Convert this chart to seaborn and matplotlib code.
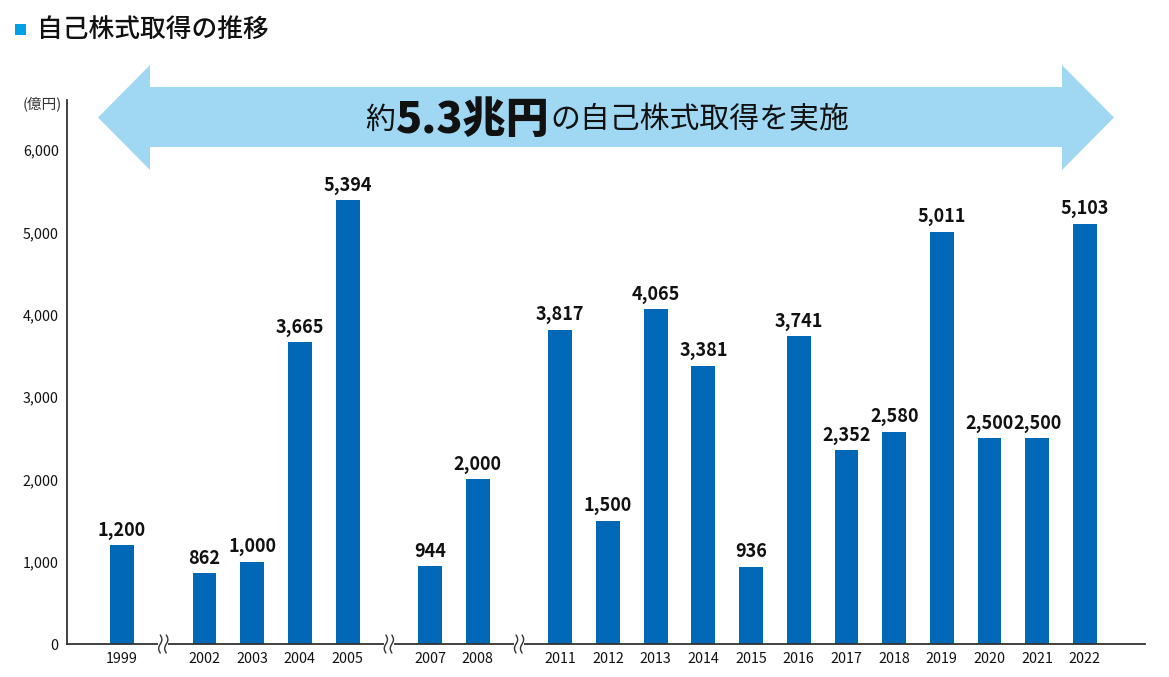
import seaborn as sns
import matplotlib.pyplot as plt
from matplotlib.patches import Polygon, Rectangle
from matplotlib.text import Annotation
import numpy as np
import pandas as pd

years = ["1999", "2002", "2003", "2004", "2005", "2007", "2008",
         "2011", "2012", "2013", "2014", "2015", "2016", "2017",
         "2018", "2019", "2020", "2021", "2022"]
amounts = [1200, 862, 1000, 3665, 5394, 944, 2000,
           3817, 1500, 4065, 3381, 936, 3741, 2352,
           2580, 5011, 2500, 2500, 5103]
# which block of consecutive years each bar belongs to (axis breaks between blocks)
segment = [0, 1, 1, 1, 1, 2, 2,
           3, 3, 3, 3, 3, 3, 3,
           3, 3, 3, 3, 3]
yticks = [0, 1000, 2000, 3000, 4000, 5000, 6000]

BAR = "#0068b7"
ARROW = "#a0d8f4"
TEXT = "#111111"

sns.set_theme(style="white")
plt.rcParams['font.family'] = ['Noto Sans CJK JP', 'DejaVu Sans']

W, H = 1169, 677
fig = plt.figure(figsize=(W / 100, H / 100), dpi=100)

def fx(px):
    return px / W

def fy(py):
    return 1 - py / H

ax = fig.add_axes([fx(67), fy(644), fx(1145) - fx(67), fy(100) - fy(644)])

gap = 0.73
pos = [i + gap * s for i, s in enumerate(segment)]
df = pd.DataFrame({"pos": pos, "amount": amounts})

sns.barplot(data=df, x="pos", y="amount", native_scale=True, width=0.5,
            color=BAR, saturation=1, ax=ax, edgecolor="none")

ax.set_xlim(-1.154, 21.45)
ax.set_ylim(0, 6610)
ax.set_xticks(pos)
ax.set_xticklabels(years, fontsize=10.3, color=TEXT)
ax.set_yticks(yticks)
ax.set_yticklabels([f"{v:,}" for v in yticks], fontsize=10.3, color=TEXT)
ax.tick_params(axis="both", length=0, pad=6)
ax.set_xlabel("")
ax.set_ylabel("")
for s in ["top", "right"]:
    ax.spines[s].set_visible(False)
for s in ["left", "bottom"]:
    ax.spines[s].set_color("#333333")
    ax.spines[s].set_linewidth(1.3)

for p, v in zip(pos, amounts):
    ax.annotate(f"{v:,}", (p, v), xytext=(0, 4), textcoords="offset points",
                ha="center", va="bottom", fontsize=13, fontweight="bold", color=TEXT)

# axis break marks between blocks
px_x = 1 / 47.65
px_y = 6610 / 544
for k in range(len(pos) - 1):
    if segment[k] != segment[k + 1]:
        mid = (pos[k] + pos[k + 1]) / 2
        ax.add_patch(Rectangle((mid - 5 * px_x, -3 * px_y), 10 * px_x, 6 * px_y,
                               facecolor="white", edgecolor="none", clip_on=False, zorder=5))
        t = np.linspace(-1, 1, 40)
        for dx in (-3, 3):
            xs = mid + (dx + 1.6 * np.sin(np.pi * t)) * px_x
            ys = t * 9 * px_y
            ax.plot(xs, ys, color="#333333", lw=1.0, clip_on=False, zorder=6)

fig.text(fx(62), fy(104), "(億円)", ha="right", va="center", fontsize=10.5, color="#333333")

# big double arrow
pts = [(98, 117.5), (150, 65), (150, 87), (1062, 87), (1062, 65), (1114, 117.5),
       (1062, 170), (1062, 147), (150, 147), (150, 170)]
fig.patches.append(Polygon([(fx(x), fy(y)) for x, y in pts], closed=True,
                           facecolor=ARROW, edgecolor="none",
                           transform=fig.transFigure, figure=fig))

t1 = fig.text(fx(365), fy(120), "約", ha="left", va="center", fontsize=21.5,
              color=TEXT, zorder=5)
t2 = Annotation("5.3兆円", xy=(1, 0.5), xycoords=t1, xytext=(1, 0),
                textcoords="offset points", ha="left", va="center",
                fontsize=31, fontweight="black", color=TEXT, zorder=5)
fig.add_artist(t2)
t3 = Annotation("の自己株式取得を実施", xy=(1, 0.5), xycoords=t2, xytext=(0, 0),
                textcoords="offset points", ha="left", va="center",
                fontsize=21.5, color=TEXT, zorder=5)
fig.add_artist(t3)

# title
fig.patches.append(Rectangle((fx(15), fy(35)), fx(11), 11 / H, facecolor="#00a0e9",
                             edgecolor="none", transform=fig.transFigure, figure=fig))
fig.text(fx(37), fy(29), "自己株式取得の推移", ha="left", va="center",
         fontsize=18.5, fontweight="medium", color=TEXT)

fig.savefig("out.png", dpi=100)
